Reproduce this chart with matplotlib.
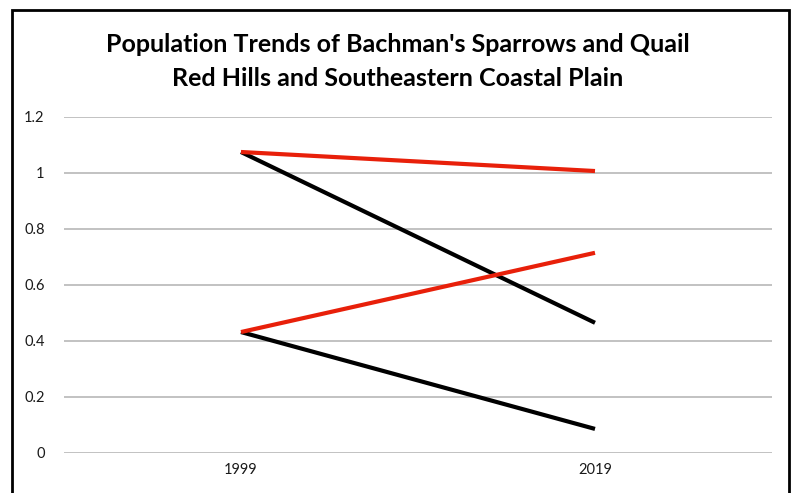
import matplotlib.pyplot as plt
from matplotlib.patches import Rectangle

years = ["1999", "2019"]
sparrow_red_hills = [1.075, 1.007]
sparrow_coastal = [0.432, 0.715]
quail_red_hills = [1.075, 0.465]
quail_coastal = [0.432, 0.086]
yticks = [0, 0.2, 0.4, 0.6, 0.8, 1, 1.2]
ytick_labels = ["0", "0.2", "0.4", "0.6", "0.8", "1", "1.2"]

plt.rcParams['font.family'] = ['Lato', 'DejaVu Sans']

fig = plt.figure(figsize=(7.96, 4.93), dpi=100)
ax = fig.add_axes([64 / 796, 1 - 453 / 493, 708 / 796, 336 / 493])

x = [0, 1]
# black first so the red lines sit on top where they meet
ax.plot(x, quail_red_hills, color='black', lw=3.0, solid_capstyle='butt')
ax.plot(x, quail_coastal, color='black', lw=3.0, solid_capstyle='butt')
ax.plot(x, sparrow_red_hills, color='#e8200a', lw=3.0, solid_capstyle='butt')
ax.plot(x, sparrow_coastal, color='#e8200a', lw=3.0, solid_capstyle='butt')

ax.set_xlim(-0.5, 1.5)
ax.set_ylim(0, 1.2)
ax.set_xticks(x)
ax.set_xticklabels(years)
ax.set_yticks(yticks)
ax.set_yticklabels(ytick_labels)
ax.tick_params(length=0, labelsize=10.5, colors='#1a1a1a')
ax.tick_params(axis='y', pad=14)
ax.tick_params(axis='x', pad=7)
ax.grid(axis='y', color='#bdbdbd', lw=1.3)
ax.set_axisbelow(True)
for s in ax.spines.values():
    s.set_visible(False)

fig.text(0.5, 1 - 45 / 493, "Population Trends of Bachman's Sparrows and Quail",
         ha='center', va='center', fontsize=18, fontweight='bold')
fig.text(0.5, 1 - 78 / 493, "Red Hills and Southeastern Coastal Plain",
         ha='center', va='center', fontsize=18, fontweight='bold')

# outer frame, runs off the bottom edge like the original screenshot
fig.patches.append(Rectangle((12 / 796, -0.05), 777 / 796, 1.05 - 10 / 493,
                             transform=fig.transFigure, fill=False,
                             edgecolor='black', lw=2))

fig.savefig("out.png", dpi=100)
